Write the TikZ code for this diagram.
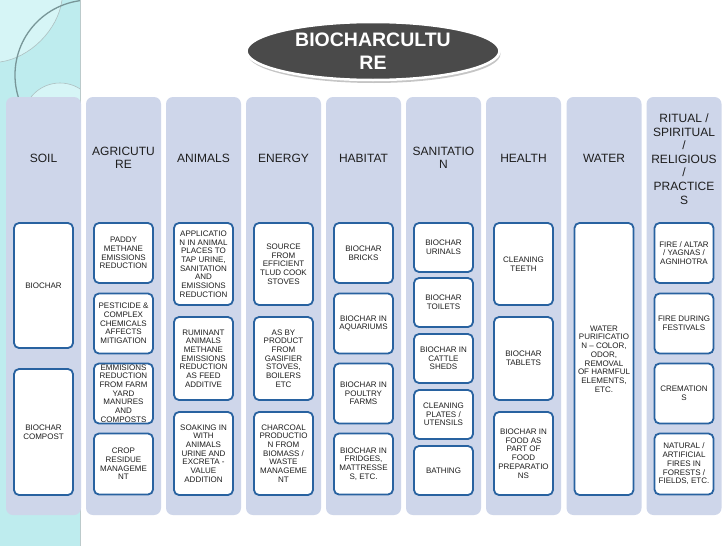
\documentclass[tikz,border=0pt]{standalone}
\usepackage{fontspec}
\setmainfont{Liberation Sans}
\usetikzlibrary{shapes.geometric,shadows}
\definecolor{colbg}{RGB}{206,214,234}
\definecolor{boxblue}{RGB}{40,98,160}
\definecolor{txt}{RGB}{30,30,30}
\definecolor{titlefill}{RGB}{74,74,74}
\definecolor{teal}{RGB}{190,236,238}
\definecolor{teallight}{RGB}{214,245,246}
\definecolor{tealline}{RGB}{120,150,152}
\tikzset{
  colbox/.style={fill=colbg, rounded corners=7pt, minimum width=75pt, minimum height=418pt, inner sep=0pt},
  hdr/.style={align=center, text=txt, font=\fontsize{12}{13.6}\selectfont, inner sep=0pt},
  ibox/.style={draw=boxblue, line width=1.8pt, fill=white, rounded corners=5pt, inner sep=0pt,
    minimum width=59pt, align=center, text=txt, font=\fontsize{8}{8.7}\selectfont},
  titleell/.style={ellipse, fill=titlefill, draw=white, line width=2.5pt,
    minimum width=253pt, minimum height=58pt, inner sep=0pt, align=center, text=white,
    font=\bfseries\fontsize{19.5}{23}\selectfont,
    drop shadow={opacity=0.45, shadow xshift=1pt, shadow yshift=-3pt}}
}
\begin{document}
\begin{tikzpicture}[x=1pt,y=-1pt]
\useasboundingbox (0,0) rectangle (728,546);
% background strip
\fill[white] (0,0) rectangle (728,546);
\fill[teal] (0,0) rectangle (80,546);
\begin{scope}
\clip (0,0) rectangle (80,546);
\fill[teallight] (0,62) .. controls (30,58) and (58,30) .. (62,0) -- (0,0) -- cycle;
\draw[tealline!60, line width=0.6pt] (0,62) .. controls (30,58) and (58,30) .. (62,0);
\fill[teallight] (60,120) circle (37);
\draw[tealline!60, line width=0.6pt] (60,120) circle (37);
\draw[tealline, line width=1.3pt] (90,75) circle (75);
\end{scope}
\draw[tealline!50, line width=0.8pt] (80,0) -- (80,546);

% title
\node[titleell] (title) at (373,51) {BIOCHARCULTU\\RE};

% columns
\node[colbox] (col1) at (43.5,306) {};
\node[colbox] (col2) at (123.5,306) {};
\node[colbox] (col3) at (203.5,306) {};
\node[colbox] (col4) at (283.5,306) {};
\node[colbox] (col5) at (363.5,306) {};
\node[colbox] (col6) at (443.5,306) {};
\node[colbox] (col7) at (523.5,306) {};
\node[colbox] (col8) at (604,306) {};
\node[colbox] (col9) at (684,306) {};

% headers
\node[hdr] (h1) at (43.5,158) {SOIL};
\node[hdr] (h2) at (123.5,158) {AGRICUTU\\RE};
\node[hdr] (h3) at (203.5,158) {ANIMALS};
\node[hdr] (h4) at (283.5,158) {ENERGY};
\node[hdr] (h5) at (363.5,158) {HABITAT};
\node[hdr] (h6) at (443.5,158) {SANITATIO\\N};
\node[hdr] (h7) at (523.5,158) {HEALTH};
\node[hdr] (h8) at (604,158) {WATER};
\node[hdr] (h9) at (684,159) {RITUAL /\\SPIRITUAL\\/\\RELIGIOUS\\/\\PRACTICE\\S};

% column 1
\node[ibox, minimum height=125pt] (s1) at (43.5,285.5) {BIOCHAR};
\node[ibox, minimum height=126pt] (s2) at (43.5,432) {BIOCHAR\\COMPOST};
% column 2
\node[ibox, minimum height=60pt] (a1) at (123.5,253) {PADDY\\METHANE\\EMISSIONS\\REDUCTION};
\node[ibox, minimum height=60pt] (a2) at (123.5,323.5) {PESTICIDE \&\\COMPLEX\\CHEMICALS\\AFFECTS\\MITIGATION};
\node[ibox, minimum height=60pt] (a3) at (123.5,393.5) {EMMISIONS\\REDUCTION\\FROM FARM\\YARD\\MANURES\\AND\\COMPOSTS};
\node[ibox, minimum height=61pt] (a4) at (123.5,464) {CROP\\RESIDUE\\MANAGEME\\NT};
% column 3
\node[ibox, minimum height=82pt] (n1) at (203.5,264) {APPLICATIO\\N IN ANIMAL\\PLACES TO\\TAP URINE,\\SANITATION\\AND\\EMISSIONS\\REDUCTION};
\node[ibox, minimum height=83pt] (n2) at (203.5,358.5) {RUMINANT\\ANIMALS\\METHANE\\EMISSIONS\\REDUCTION\\AS FEED\\ADDITIVE};
\node[ibox, minimum height=83pt] (n3) at (203.5,453.5) {SOAKING IN\\WITH\\ANIMALS\\URINE AND\\EXCRETA -\\VALUE\\ADDITION};
% column 4
\node[ibox, minimum height=82pt] (e1) at (283.5,264) {SOURCE\\FROM\\EFFICIENT\\TLUD COOK\\STOVES};
\node[ibox, minimum height=83pt] (e2) at (283.5,358.5) {AS BY\\PRODUCT\\FROM\\GASIFIER\\STOVES,\\BOILERS\\ETC};
\node[ibox, minimum height=83pt] (e3) at (283.5,453.5) {CHARCOAL\\PRODUCTIO\\N FROM\\BIOMASS /\\WASTE\\MANAGEME\\NT};
% column 5
\node[ibox, minimum height=60pt] (b1) at (363.5,253) {BIOCHAR\\BRICKS};
\node[ibox, minimum height=60pt] (b2) at (363.5,323.5) {BIOCHAR IN\\AQUARIUMS};
\node[ibox, minimum height=60pt] (b3) at (363.5,393.5) {BIOCHAR IN\\POULTRY\\FARMS};
\node[ibox, minimum height=61pt] (b4) at (363.5,464) {BIOCHAR IN\\FRIDGES,\\MATTRESSE\\S, ETC.};
% column 6
\node[ibox, minimum height=49pt] (t1) at (443.5,247.5) {BIOCHAR\\URINALS};
\node[ibox, minimum height=49pt] (t2) at (443.5,302.5) {BIOCHAR\\TOILETS};
\node[ibox, minimum height=49pt] (t3) at (443.5,358.5) {BIOCHAR IN\\CATTLE\\SHEDS};
\node[ibox, minimum height=49pt] (t4) at (443.5,414.5) {CLEANING\\PLATES /\\UTENSILS};
\node[ibox, minimum height=49pt] (t5) at (443.5,470.5) {BATHING};
% column 7
\node[ibox, minimum height=82pt] (p1) at (523.5,264) {CLEANING\\TEETH};
\node[ibox, minimum height=83pt] (p2) at (523.5,358.5) {BIOCHAR\\TABLETS};
\node[ibox, minimum height=83pt] (p3) at (523.5,453.5) {BIOCHAR IN\\FOOD AS\\PART OF\\FOOD\\PREPARATIO\\NS};
% column 8
\node[ibox, minimum height=272pt] (w1) at (604,359) {WATER\\PURIFICATIO\\N – COLOR,\\ODOR,\\REMOVAL\\OF HARMFUL\\ELEMENTS,\\ETC.};
% column 9
\node[ibox, minimum height=60pt] (r1) at (684,253) {FIRE / ALTAR\\/ YAGNAS /\\AGNIHOTRA};
\node[ibox, minimum height=60pt] (r2) at (684,323.5) {FIRE DURING\\FESTIVALS};
\node[ibox, minimum height=60pt] (r3) at (684,393.5) {CREMATION\\S};
\node[ibox, minimum height=61pt] (r4) at (684,464) {NATURAL /\\ARTIFICIAL\\FIRES IN\\FORESTS /\\FIELDS, ETC.};
\end{tikzpicture}
\end{document}
